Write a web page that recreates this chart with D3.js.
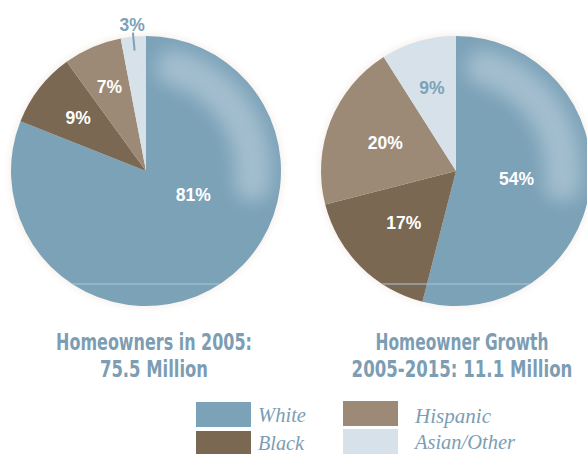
<!DOCTYPE html>
<html>
<head>
<meta charset="utf-8">
<script src="https://cdn.jsdelivr.net/npm/d3@7"></script>
<style>
  html, body { margin: 0; padding: 0; background: #ffffff; }
  svg { display: block; }
</style>
</head>
<body>
<svg id="chart" width="587" height="454"></svg>
<script>
// Homeowner shares by race/ethnicity
const categories = ["White", "Black", "Hispanic", "Asian/Other"];
const share2005 = [81, 9, 7, 3];
const shareGrowth = [54, 17, 20, 9];
const titles2005 = ["Homeowners in 2005:", "75.5 Million"];
const titlesGrowth = ["Homeowner Growth", "2005-2015: 11.1 Million"];

const colors = d3.scaleOrdinal()
  .domain(categories)
  .range(["#7ca2b8", "#7a6853", "#9c8a77", "#d6e1ea"]);

const titleColor = "#7c9db3";
const R = 135;

const svg = d3.select("#chart");
const defs = svg.append("defs");

defs.append("filter").attr("id", "soft")
  .attr("x", "-50%").attr("y", "-50%").attr("width", "200%").attr("height", "200%")
  .append("feGaussianBlur").attr("stdDeviation", 9);

defs.append("filter").attr("id", "halo")
  .attr("x", "-20%").attr("y", "-20%").attr("width", "140%").attr("height", "140%")
  .append("feGaussianBlur").attr("stdDeviation", 3);

const pie = d3.pie().sort(null).value(d => d);
const arc = d3.arc().innerRadius(0).outerRadius(R);

// label placement: radius from centre, optional fixed angle (degrees), outside flag
const layout2005 = [
  { r: 53, angle: 117 },
  { r: 86 },
  { r: 92 },
  { r: 147, outside: true }
];
const layoutGrowth = [
  { r: 61 },
  { r: 74 },
  { r: 76 },
  { r: 86, dark: true }
];

// title lines: fitted widths of the condensed heading face
const titleWidths2005 = [196, 108];
const titleWidthsGrowth = [173, 221];

// squeeze a text horizontally so it spans the given width (anchored at x)
function fitWidth(sel, x, y, width, anchor) {
  sel.attr("x", 0).attr("y", 0).attr("text-anchor", anchor);
  const natural = sel.node().getComputedTextLength();
  const sx = width / natural;
  sel.attr("transform", `translate(${x},${y}) scale(${sx},1)`);
}

function drawPie(id, cx, cy, values, layout, titleLines, titleWidths, titleX) {
  const g = svg.append("g").attr("transform", `translate(${cx},${cy})`);

  // faint glow around the disc
  g.append("circle").attr("r", R + 2)
    .attr("fill", "#efe6de").attr("opacity", 0.6)
    .attr("filter", "url(#halo)");

  defs.append("clipPath").attr("id", "clip-" + id)
    .append("circle").attr("r", R);

  const arcs = pie(values);
  g.selectAll("path.slice").data(arcs).join("path")
    .attr("class", "slice")
    .attr("d", arc)
    .attr("fill", (d, i) => colors(categories[i]));

  // glossy highlight along the upper right rim
  const shine = g.append("g").attr("clip-path", `url(#clip-${id})`);
  shine.append("path")
    .attr("d", d3.arc().innerRadius(R - 46).outerRadius(R - 10)
      .startAngle(0.1).endAngle(1.85).cornerRadius(16)())
    .attr("fill", "#d3e1ea").attr("opacity", 0.45)
    .attr("filter", "url(#soft)");
  shine.append("line")
    .attr("x1", -R).attr("x2", R).attr("y1", 113).attr("y2", 113)
    .attr("stroke", "#a9c6da").attr("stroke-width", 1.5).attr("opacity", 0.7);

  // percentage labels
  arcs.forEach((d, i) => {
    const L = layout[i];
    const a = L.angle !== undefined ? L.angle * Math.PI / 180 : (d.startAngle + d.endAngle) / 2;
    const x = L.r * Math.sin(a), y = -L.r * Math.cos(a);
    if (L.outside) {
      g.append("line")
        .attr("x1", 121 * Math.sin(a)).attr("y1", -121 * Math.cos(a))
        .attr("x2", 139 * Math.sin(a)).attr("y2", -139 * Math.cos(a))
        .attr("stroke", colors("White")).attr("stroke-width", 2);
    }
    g.append("text")
      .attr("x", x).attr("y", y)
      .attr("text-anchor", "middle").attr("dominant-baseline", "central")
      .attr("font-family", "'Liberation Sans', Arial, sans-serif")
      .attr("font-weight", "bold").attr("font-size", 17.5)
      .attr("fill", (L.outside || L.dark) ? colors("White") : "#ffffff")
      .text(d.data + "%");
  });

  // title under the disc
  titleLines.forEach((t, i) => {
    const txt = svg.append("text")
      .attr("font-family", "'DejaVu Sans Condensed', 'Liberation Sans Narrow', sans-serif")
      .attr("font-weight", "bold").attr("font-size", 22.5)
      .attr("fill", titleColor)
      .text(t);
    fitWidth(txt, titleX, 350 + i * 27, titleWidths[i], "middle");
  });
}

drawPie("a", 146, 171, share2005, layout2005, titles2005, titleWidths2005, 154);
drawPie("b", 456, 171, shareGrowth, layoutGrowth, titlesGrowth, titleWidthsGrowth, 462);

// legend: two columns of swatches with italic serif labels
const legendSwatch = [
  { x: 196, y: 402 }, { x: 196, y: 431 },
  { x: 343, y: 401 }, { x: 343, y: 429 }
];
const legendText = [
  { x: 258, y: 422, w: 48 }, { x: 258, y: 450, w: 46 },
  { x: 415, y: 423, w: 76 }, { x: 415, y: 449, w: 100 }
];
const legend = svg.append("g");
categories.forEach((c, i) => {
  legend.append("rect")
    .attr("x", legendSwatch[i].x).attr("y", legendSwatch[i].y)
    .attr("width", 55).attr("height", 25)
    .attr("fill", colors(c));
  const txt = legend.append("text")
    .attr("font-family", "'Liberation Serif', 'Times New Roman', serif")
    .attr("font-style", "italic").attr("font-size", 21)
    .attr("fill", titleColor)
    .text(c);
  fitWidth(txt, legendText[i].x, legendText[i].y, legendText[i].w, "start");
});
</script>
</body>
</html>
